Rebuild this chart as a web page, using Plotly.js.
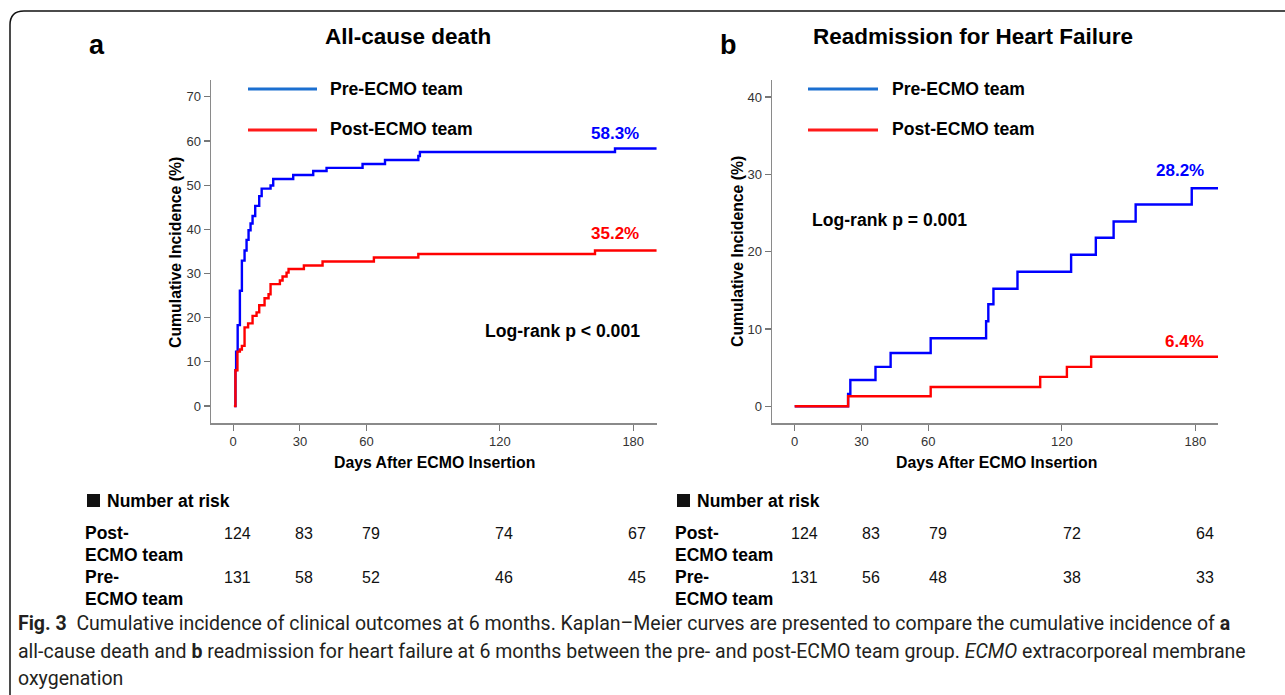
<!DOCTYPE html>
<html>
<head>
<meta charset="utf-8">
<script src="https://cdn.plot.ly/plotly-3.0.1.min.js"></script>
<style>html,body{margin:0;padding:0;background:#fff;}#chart{width:1285px;height:695px;}</style>
</head>
<body>
<div id="chart"></div>
<script>
// ---- Data ----
// Panel a: All-cause death
const aPreDays  = [0.5, 1.0, 1.3, 2.0, 3.0, 3.9, 5.1, 6.0, 6.9, 7.8, 8.7, 9.9, 11.7, 12.8, 16.8, 18.0, 27.0, 36.0, 42.0, 58.2, 68.3, 83.3, 84.0, 171.8, 190.5];
const aPreInc   = [0, 8.1, 12.3, 18.3, 26.1, 32.9, 35.2, 37.6, 39.8, 41.3, 43.0, 45.3, 47.5, 49.2, 49.9, 51.4, 52.3, 53.2, 53.9, 54.8, 55.7, 56.6, 57.5, 58.3, 58.3];
const aPostDays = [0.3, 1.0, 1.9, 3.0, 3.9, 5.1, 6.7, 8.7, 10.5, 11.7, 14.1, 15.9, 16.8, 21.0, 22.2, 24.0, 24.9, 31.8, 40.2, 63.3, 83.3, 162.8, 190.5];
const aPostInc  = [0, 8.1, 12.3, 12.8, 13.6, 17.8, 18.7, 20.4, 21.2, 22.8, 24.4, 25.3, 27.6, 28.4, 29.3, 30.2, 31.0, 31.8, 32.7, 33.6, 34.4, 35.2, 35.2];
// Panel b: Readmission for heart failure
const bPreDays  = [0, 24.0, 25.0, 36.3, 43.1, 61.1, 86.0, 87.0, 89.3, 100.1, 124.2, 135.3, 143.3, 153.2, 178.4, 190.5];
const bPreInc   = [0, 1.6, 3.4, 5.1, 6.9, 8.8, 11.0, 13.2, 15.2, 17.4, 19.6, 21.8, 23.9, 26.1, 28.2, 28.2];
const bPostDays = [0, 24.0, 61.1, 110.3, 122.3, 133.2, 190.5];
const bPostInc  = [0, 1.3, 2.5, 3.8, 5.1, 6.4, 6.4];

const xTicks = [0, 30, 60, 120, 180];
const aYTicks = [0, 10, 20, 30, 40, 50, 60, 70];
const bYTicks = [0, 10, 20, 30, 40];

const riskDays  = [0, 30, 60, 120, 180];
const aRiskPost = [124, 83, 79, 74, 67];
const aRiskPre  = [131, 58, 52, 46, 45];
const bRiskPost = [124, 83, 79, 72, 64];
const bRiskPre  = [131, 56, 48, 38, 33];

const groupNames = ['Pre-ECMO team', 'Post-ECMO team'];
const aFinal = ['58.3%', '35.2%'];
const bFinal = ['28.2%', '6.4%'];

// ---- Layout helpers ----
const W = 1285, H = 695;
const px = x => x / W;
const py = y => 1 - y / H;
const AR = 'Arial, "Liberation Sans", sans-serif';
const BLUE = '#0000ff', RED = '#ff0000';

const traces = [
  {x: aPreDays, y: aPreInc, xaxis: 'x', yaxis: 'y', mode: 'lines', line: {shape: 'hv', color: BLUE, width: 2.4}, name: groupNames[0]},
  {x: aPostDays, y: aPostInc, xaxis: 'x', yaxis: 'y', mode: 'lines', line: {shape: 'hv', color: RED, width: 2.4}, name: groupNames[1]},
  {x: bPreDays, y: bPreInc, xaxis: 'x2', yaxis: 'y2', mode: 'lines', line: {shape: 'hv', color: BLUE, width: 2.4}, name: groupNames[0]},
  {x: bPostDays, y: bPostInc, xaxis: 'x2', yaxis: 'y2', mode: 'lines', line: {shape: 'hv', color: RED, width: 2.4}, name: groupNames[1]}
];

const axisCommon = {
  showline: true, linecolor: '#8a8a8a', linewidth: 1.5,
  ticks: 'outside', ticklen: 6, tickwidth: 1.2, tickcolor: '#777',
  showgrid: false, zeroline: false, fixedrange: true,
  tickfont: {family: AR, size: 13, color: '#333'}
};

const annotations = [];
function txt(text, x, y, size, color, opts) {
  annotations.push(Object.assign({
    text: text, x: px(x), y: py(y), xref: 'paper', yref: 'paper',
    showarrow: false, xanchor: 'center', yanchor: 'middle',
    font: {family: AR, size: size, color: color}
  }, opts || {}));
}

// Panel letters and titles
txt('<b>a</b>', 97, 45, 27, '#000');
txt('<b>b</b>', 728, 45, 27, '#000');
txt('<b>All-cause death</b>', 408, 36, 22.5, '#000');
txt('<b>Readmission for Heart Failure</b>', 973, 36, 22.5, '#000');

// Legends
txt('<b>' + groupNames[0] + '</b>', 328, 89, 17.6, '#000', {xanchor: 'left'});
txt('<b>' + groupNames[1] + '</b>', 328, 129, 17.6, '#000', {xanchor: 'left'});
txt('<b>' + groupNames[0] + '</b>', 890, 89, 17.6, '#000', {xanchor: 'left'});
txt('<b>' + groupNames[1] + '</b>', 890, 129, 17.6, '#000', {xanchor: 'left'});

// Final values and log-rank
txt('<b>' + aFinal[0] + '</b>', 641, 133, 17, BLUE, {xanchor: 'right'});
txt('<b>' + aFinal[1] + '</b>', 641, 233, 17, RED, {xanchor: 'right'});
txt('<b>Log-rank p &lt; 0.001</b>', 642, 331, 17.6, '#000', {xanchor: 'right'});
txt('<b>' + bFinal[0] + '</b>', 1206, 171, 17, BLUE, {xanchor: 'right'});
txt('<b>' + bFinal[1] + '</b>', 1206, 341, 17, RED, {xanchor: 'right'});
txt('<b>Log-rank p = 0.001</b>', 810, 220, 17.6, '#000', {xanchor: 'left'});

// Axis titles
txt('<b>Days After ECMO Insertion</b>', 434, 462, 15.8, '#000');
txt('<b>Days After ECMO Insertion</b>', 996, 462, 15.8, '#000');
txt('<b>Cumulative Incidence (%)</b>', 175, 252, 15.8, '#000', {textangle: -90});
txt('<b>Cumulative Incidence (%)</b>', 737, 252, 15.8, '#000', {textangle: -90});

// Number at risk
txt('<b>Number at risk</b>', 105, 501, 17.5, '#000', {xanchor: 'left'});
txt('<b>Number at risk</b>', 695, 501, 17.5, '#000', {xanchor: 'left'});
[83, 673].forEach(function (x0) {
  txt('<b>Post-</b>', x0, 533, 17.5, '#000', {xanchor: 'left'});
  txt('<b>ECMO team</b>', x0, 555, 17.5, '#000', {xanchor: 'left'});
  txt('<b>Pre-</b>', x0, 577, 17.5, '#000', {xanchor: 'left'});
  txt('<b>ECMO team</b>', x0, 599, 17.5, '#000', {xanchor: 'left'});
});
function riskRow(vals, xref, yPix, shift) {
  vals.forEach(function (v, i) {
    annotations.push({text: String(v), x: riskDays[i], xref: xref, y: py(yPix), yref: 'paper',
      xshift: shift, showarrow: false, xanchor: 'center', yanchor: 'middle',
      font: {family: AR, size: 16, color: '#111'}});
  });
}
riskRow(aRiskPost, 'x', 533, 4);
riskRow(aRiskPre, 'x', 577, 4);
riskRow(bRiskPost, 'x2', 533, 10);
riskRow(bRiskPre, 'x2', 577, 10);

// Caption
const CAP = 'Roboto, "Liberation Sans", sans-serif';
const capLines = [
  '<b>Fig. 3</b>  Cumulative incidence of clinical outcomes at 6 months. Kaplan–Meier curves are presented to compare the cumulative incidence of <b>a</b>',
  'all-cause death and <b>b</b> readmission for heart failure at 6 months between the pre- and post-ECMO team group. <i>ECMO</i> extracorporeal membrane',
  'oxygenation'
];
[623, 651, 678].forEach(function (y, i) {
  txt(capLines[i], 16, y, 19.5, '#231f20', {xanchor: 'left', font: {family: CAP, size: 19.5, color: '#231f20'}});
});

// Shapes: frame, legend lines, "number at risk" squares
const r = 14;
const shapes = [
  {type: 'path', xref: 'paper', yref: 'paper',
   path: 'M ' + px(10) + ' ' + py(700) + ' L ' + px(10) + ' ' + py(11 + r) +
         ' Q ' + px(10) + ' ' + py(11) + ' ' + px(10 + r) + ' ' + py(11) +
         ' L ' + px(1290) + ' ' + py(11),
   line: {color: '#111', width: 1.5}},
  {type: 'line', xref: 'paper', yref: 'paper', x0: px(248), x1: px(317), y0: py(89), y1: py(89), line: {color: '#1b6fd0', width: 3}},
  {type: 'line', xref: 'paper', yref: 'paper', x0: px(248), x1: px(317), y0: py(130), y1: py(130), line: {color: '#ff1a1a', width: 3}},
  {type: 'line', xref: 'paper', yref: 'paper', x0: px(808), x1: px(878), y0: py(89), y1: py(89), line: {color: '#1b6fd0', width: 3}},
  {type: 'line', xref: 'paper', yref: 'paper', x0: px(808), x1: px(878), y0: py(130), y1: py(130), line: {color: '#ff1a1a', width: 3}},
  {type: 'rect', xref: 'paper', yref: 'paper', x0: px(87), x1: px(100), y0: py(507), y1: py(494), fillcolor: '#111', line: {width: 0}},
  {type: 'rect', xref: 'paper', yref: 'paper', x0: px(677), x1: px(690), y0: py(507), y1: py(494), fillcolor: '#111', line: {width: 0}}
];

const layout = {
  width: W, height: H,
  margin: {l: 0, r: 0, t: 0, b: 0},
  paper_bgcolor: '#fff', plot_bgcolor: '#fff',
  showlegend: false,
  xaxis: Object.assign({}, axisCommon, {domain: [px(211), px(657)], range: [-10, 190.7], tickvals: xTicks, anchor: 'y'}),
  yaxis: Object.assign({}, axisCommon, {domain: [py(423), py(80)], range: [-3.85, 73.8], tickvals: aYTicks, anchor: 'x'}),
  xaxis2: Object.assign({}, axisCommon, {domain: [px(772), px(1218)], range: [-10.2, 190.2], tickvals: xTicks, anchor: 'y2'}),
  yaxis2: Object.assign({}, axisCommon, {domain: [py(423), py(80)], range: [-2.16, 42.2], tickvals: bYTicks, anchor: 'x2'}),
  annotations: annotations,
  shapes: shapes
};

Plotly.newPlot('chart', traces, layout, {staticPlot: true, displayModeBar: false});
</script>
</body>
</html>
